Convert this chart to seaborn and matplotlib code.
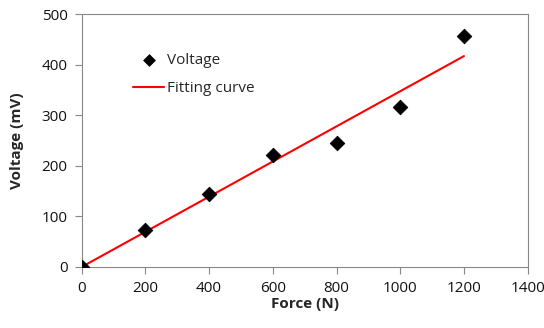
import matplotlib
matplotlib.use("Agg")
import matplotlib.pyplot as plt
import seaborn as sns
import pandas as pd

force = [0, 200, 400, 600, 800, 1000, 1200]
voltage = [0, 73, 144, 221, 246, 316, 456]
fit_x = [0, 1200]
fit_y = [0, 417]

sns.set_style("white")
plt.rcParams['font.family'] = ['Open Sans', 'DejaVu Sans']

df = pd.DataFrame({"Force": force, "Voltage": voltage})
fit = pd.DataFrame({"Force": fit_x, "Voltage": fit_y})

fig = plt.figure(figsize=(5.44, 3.28), dpi=100)
ax = fig.add_axes([0.150, 0.186, 0.820, 0.771])

sns.scatterplot(data=df, x="Force", y="Voltage", marker="D", s=55, color="black",
                edgecolor="black", ax=ax, label="Voltage", zorder=3)
sns.lineplot(data=fit, x="Force", y="Voltage", color="red", linewidth=1.5,
             ax=ax, label="Fitting curve", zorder=2)

ax.set_xlim(0, 1400)
ax.set_ylim(0, 500)
ax.set_xticks(range(0, 1401, 200))
ax.set_yticks(range(0, 501, 100))
ax.set_xlabel("Force (N)", fontsize=11, fontweight="bold", labelpad=1)
ax.set_ylabel("Voltage (mV)", fontsize=11, fontweight="bold", labelpad=13)
ax.tick_params(axis="both", labelsize=11, direction="out", length=5, width=0.8,
               color="#888888", labelcolor="#111111", left=True, bottom=True, pad=5)
for s in ax.spines.values():
    s.set_color("#888888")
    s.set_linewidth(0.8)

leg = ax.legend(loc="upper left", bbox_to_anchor=(0.085, 0.90), frameon=False,
                fontsize=11, handlelength=2.0, labelspacing=0.85, handletextpad=0.2,
                markerscale=0.8)

fig.savefig("out.png", dpi=100)
